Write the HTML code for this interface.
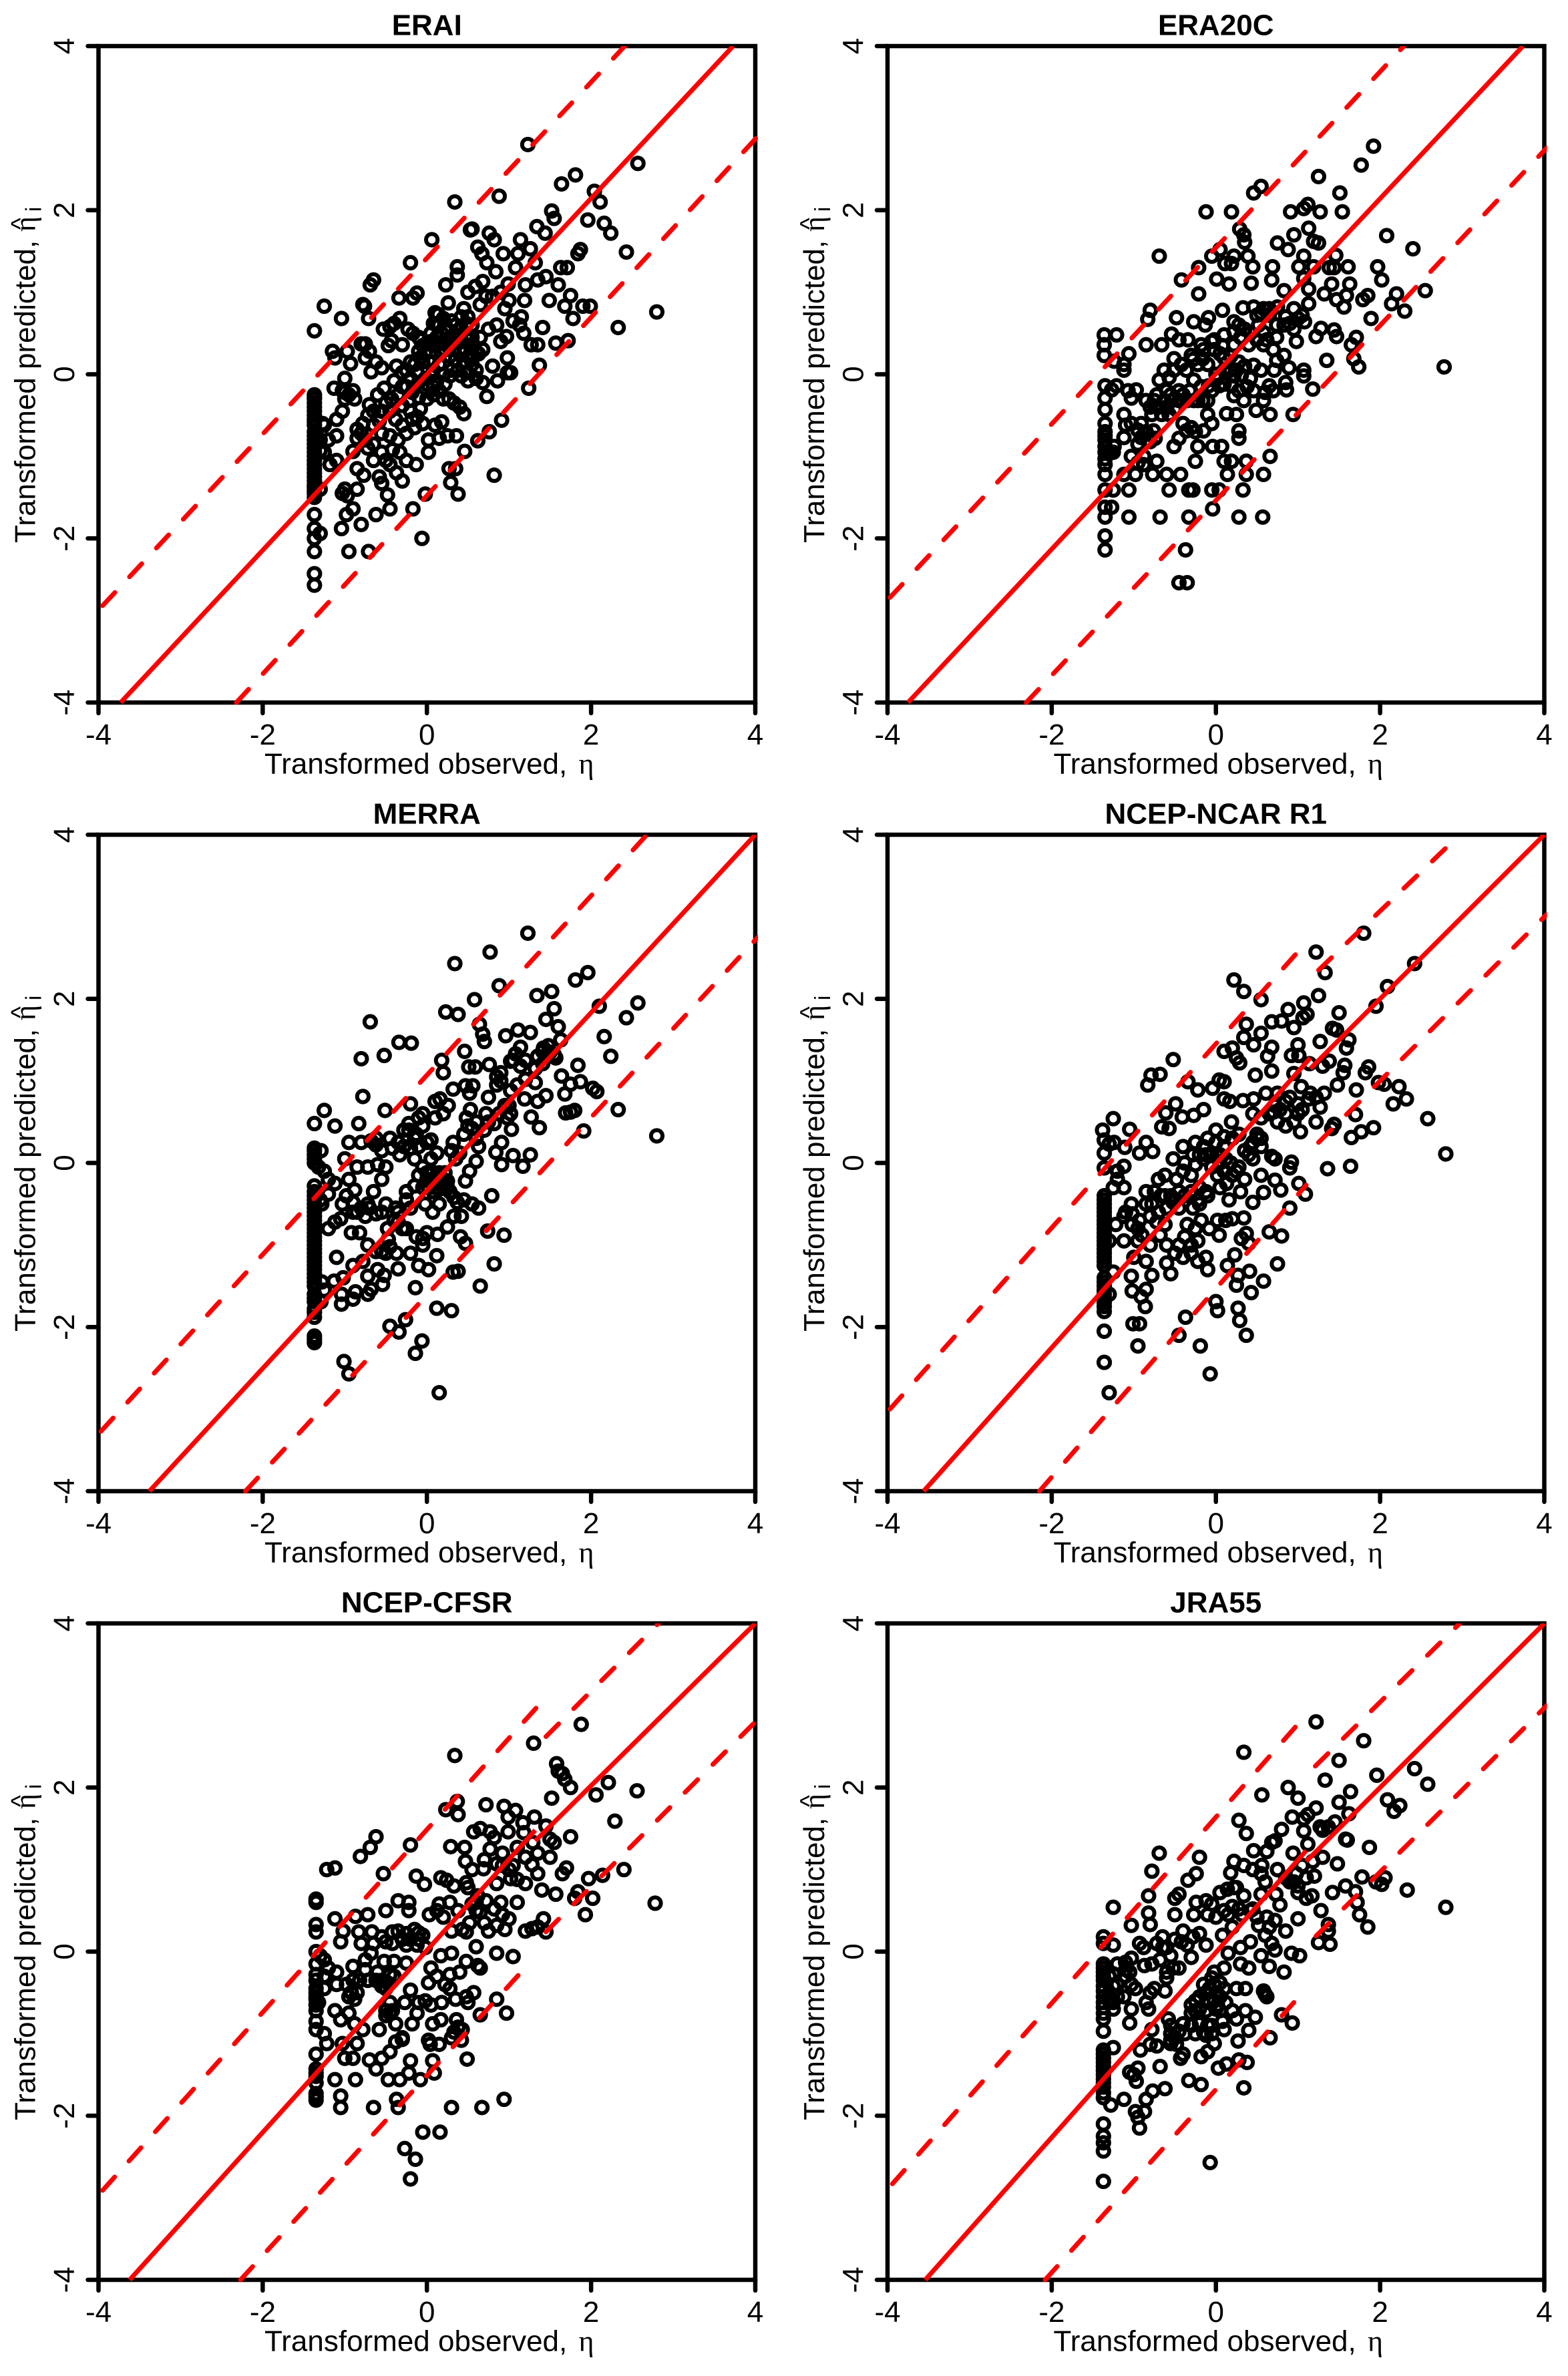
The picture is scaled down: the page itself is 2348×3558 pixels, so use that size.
<!DOCTYPE html>
<html lang="en">
<head>
<meta charset="utf-8">
<title>Transformed observed vs predicted</title>
<style>
html,body{margin:0;padding:0;background:#fff;}
svg{display:block;}
text{font-family:"Liberation Sans",Arial,sans-serif;fill:#000;}
</style>
</head>
<body>
<svg id="chart" xmlns="http://www.w3.org/2000/svg" width="2348" height="3558" viewBox="0 0 2348 3558"></svg>
<script>
const axisTicks = [-4, -2, 0, 2, 4];
const panelTitles = ["ERAI", "ERA20C", "MERRA", "NCEP-NCAR R1", "NCEP-CFSR", "JRA55"];

const eraiFit = [[-3.73,-4,3.73,4]];
const eraiUpper = [[-3.95,-2.82,2.41,4]];
const eraiLower = [[-2.32,-4,4.03,2.9]];
const era20cFit = [[-3.75,-4,3.74,4]];
const era20cUpper = [[-3.97,-2.72,2.29,4]];
const era20cLower = [[-2.31,-4,4.03,2.76]];
const merraFit = [[-3.38,-4,4,4]];
const merraUpper = [[-3.97,-3.27,2.68,4]];
const merraLower = [[-2.21,-4,4.03,2.75]];
const ncarFit = [[-3.56,-4,1.15,1.28],[1.15,1.15,4,4]];
const ncarUpper = [[-3.97,-3,1.13,2.72],[1.25,2.35,2.97,4]];
const ncarLower = [[-2.15,-4,1.1,-0.27],[1.25,0.25,4.03,3.03]];
const cfsrFit = [[-3.62,-4,1.32,1.48],[1.32,1.35,4,4]];
const cfsrUpper = [[-3.95,-2.91,1.35,2.99],[1.45,2.62,2.82,4]];
const cfsrLower = [[-2.27,-4,1.23,-0.16],[1.45,0.24,4,2.8]];
const jraFit = [[-3.54,-4,1.1,1.23],[1.1,1.1,4,4]];
const jraUpper = [[-3.94,-2.83,1.12,2.91],[1.21,2.26,2.96,3.99]];
const jraLower = [[-2.08,-4,1.12,-0.43],[1.22,0.19,4.03,3]];

const eraiPoints = [
[1.23,2.8],[2.57,2.57],[1.81,2.43],[1.64,2.32],[2.04,2.23],[2.11,2.1],[0.34,2.1],[0.88,2.17],[1.52,1.99],[1.55,1.9],
[1.96,1.88],[2.16,1.84],[1.34,1.8],[2.24,1.72],[1.44,1.72],[0.55,1.77],[0.53,1.76],[0.76,1.72],[0.82,1.64],[1.14,1.64],[0.06,1.64],
[1.26,1.53],[2.43,1.49],[1.87,1.52],[1.84,1.47],[0.62,1.55],[0.93,1.47],[0.67,1.47],[1.11,1.47],[-0.2,1.36],[0.37,1.31],
[0.73,1.36],[1.32,1.36],[1.63,1.3],[1.71,1.3],[1.08,1.3],[0.37,1.21],[0.84,1.25],[-0.65,1.15],[-0.69,1.09],[0.23,1.09],
[0.68,1.13],[0.59,1.07],[1.45,1.19],[1.35,1.15],[1.6,1.09],[1.2,1.09],[0.99,1.1],[0.5,1],[-0.12,0.99],[-0.17,0.93],
[-0.34,0.93],[1.75,0.96],[1.49,0.9],[1.19,0.9],[0.65,0.85],[0.26,0.87],[-0.78,0.85],[-0.76,0.83],[-1.25,0.83],[1.9,0.83],[1.99,0.83],
[1.68,0.83],[2.8,0.76],[-1.04,0.68],[-0.71,0.68],[1.78,0.68],[2.33,0.57],[-1.37,0.53],[1.41,0.57],[1.72,0.41],[1.57,0.38],
[1.35,0.36],[1.27,0.36],[1.37,0.11],[1.24,-0.17],[0.91,-0.56],[0.76,-0.7],[0.62,-0.81],[0.46,-0.94],[0.82,-1.23],[0.35,-1.15],
[0.27,-1.15],[0.29,-1.32],[0.38,-1.46],[-0.02,-1.46],[-0.17,-1.64],[-0.45,-1.64],[-0.06,-2],[-0.71,-2.16],[-0.95,-2.16],[-0.8,-1.83],
[-1.04,-1.88],[-0.62,-1.71],[-0.98,-1.71],[-0.9,-1.64],[-1.37,-2.57],[-1.37,-2.43],[-1.37,-2.16],[-1.37,-2],[-1.3,-1.94],[-1.37,-1.88],[-1.37,-1.71],
[-1.15,0.28],[-1.12,0.2],[-0.97,0.28],[-0.93,0.13],[-0.8,0.37],[-0.75,0.37],[-0.75,0.2],[-0.7,0.28],[-0.62,0.15],[-0.68,0.03],
[-0.55,0.08],[-0.53,0.55],[-0.45,0.58],[-0.4,0.62],[-0.33,0.68],[-0.47,0.35],[-0.43,0.41],[-0.3,0.36],[-0.23,0.55],[-0.17,0.5],
[-0.1,0.45],[-0.37,0.1],[-0.25,0.05],[-0.15,0.12],[-0.08,0.2],[-0.02,0.25],[0.03,0.15],[0.05,0.5],[0.1,0.75],[0.14,0.73],
[0.12,0.6],[0.18,0.5],[0.22,0.42],[0.1,0.35],[0.17,0.28],[0.25,0.35],[0.3,0.65],[0.33,0.48],[0.4,0.45],[0.45,0.8],
[0.5,0.7],[0.55,0.6],[0.47,0.3],[0.52,0.2],[0.57,0.35],[0.63,0.25],[0.68,0.3],[0.45,0.15],[0.35,0.18],[0.3,0.05],
[0.2,0],[0.12,-0.08],[0.05,-0.02],[0,-0.12],[-0.1,-0.1],[-0.2,-0.05],[-0.3,-0.15],[-0.4,-0.08],[-0.52,-0.17],[-0.6,-0.25],
[-0.7,-0.37],[-0.5,-0.35],[-0.43,-0.3],[-0.3,-0.38],[-0.2,-0.45],[-0.08,-0.42],[0,-0.3],[0.08,-0.25],[0.2,-0.3],[0.27,-0.3],
[0.33,-0.35],[0.4,-0.4],[0.45,-0.48],[0.5,-0.08],[0.6,-0.05],[0.68,-0.1],[0.73,-0.27],[0.8,0.1],[0.86,-0.08],[0.98,0.02],
[1.02,0.02],[0.98,0.2],[0.9,0.4],[0.97,0.46],[0.85,0.6],[0.95,0.8],[1.05,0.65],[1.13,0.6],[1.18,0.5],[1.15,0.7],
[0.9,1],[1,0.9],[0.72,0.95],[0.8,0.95],[-0.18,-0.55],[-0.05,-0.6],[0.1,-0.62],[0.18,-0.58],[0.25,-0.75],[0.36,-0.75],
[0.02,-0.8],[0.02,-0.95],[0.15,-0.78],[-0.35,-0.8],[-0.45,-0.75],[-0.25,-0.72],[-0.58,-0.57],[-0.65,-0.62],[-0.78,-0.6],[-0.85,-0.67],
[-0.9,-0.94],[-0.72,-0.9],[-0.55,-0.95],[-0.65,-1.05],[-0.5,-1.05],[-0.45,-1.1],[-0.37,-1.2],[-0.3,-1.3],[-0.25,-1.05],[-0.13,-1.1],
[-0.58,-1.25],[-0.55,-1.33],[-0.85,-1.15],[-0.77,-1.23],[-0.85,-1.4],[-1,-1.4],[-1.03,-1.45],[-0.97,-1.48],[-0.48,-1.47],[-1.1,-1.05],
[-1.18,-1.1],[-1.25,-0.95],[-1.2,-0.8],[-1.1,-0.75],[-1.27,-0.6],[-1.1,-0.55],[-1.03,-0.45],[-1.13,-0.17],[-1.03,-0.2],[-1,-0.05],
[-0.9,-0.2],[-0.88,-0.3],[-1,-0.3],[-1.3,-1.4],[-1.37,-0.25],[-1.37,-0.3],[-1.37,-0.35],[-1.37,-0.55],[-1.37,-0.62],[-1.37,-0.8],
[-1.37,-0.95],[-1.37,-1.1],[-1.37,-1.2],[-1.37,-1.25],[-1.37,-1.3],[-1.37,-1.38],[-1.37,-1.45],[-1.37,-1.5],[-1.3,-0.93],[-0.55,-0.72],
[0.55,0.45],[0.4,0.3],[0.28,0.22],[0.15,0.12],[0.08,0.05],[0.65,0.45],[0.75,0.55],[-0.05,0.35],[0.6,0.05],[0.42,-0.02],
[0.05,0.4],[0.12,0.45],[0.18,0.38],[0.22,0.3],[0.28,0.42],[0.32,0.3],[0.38,0.38],[0.42,0.55],[0.48,0.48],[0.52,0.42],
[0.48,0.62],[0.42,0.7],[0.35,0.6],[0.25,0.55],[0.2,0.68],[0.15,0.6],[0.08,0.62],[0.05,0.28],[0,0.38],[-0.05,0.15],
[-0.1,0.28],[-0.12,0.02],[-0.02,-0.05],[0.08,-0.15],[0.15,-0.2],[0.22,-0.12],[0.28,-0.02],[0.38,0.05],[0.48,0.02],[0.55,0.12],
[0.6,0.28],[0.55,0.25],[-0.25,-0.15],[-0.18,-0.22],[-0.1,-0.28],[-0.35,-0.25],[-0.45,-0.45],[-0.38,-0.55],[-0.3,-0.62],[-0.22,-0.32],
[-0.12,-0.52],[-0.55,-0.45],[-0.65,-0.45],[-0.72,-0.5],[-0.8,-0.72],[-0.75,-0.8],[-0.85,-0.78],[-0.65,-0.85],[-0.15,-0.65],[-0.42,-0.92],
[-0.33,-0.95],[-0.2,0.15],[-0.3,0.02],[-0.08,0.42],[-1.37,-0.28],[-1.37,-0.4],[-1.37,-0.45],[-1.37,-0.5],[-1.37,-0.58],[-1.37,-0.7],
[-1.37,-0.75],[-1.37,-0.85],[-1.37,-0.9],[-1.37,-1],[-1.37,-1.05],[-1.37,-1.15],[-1.37,-1.35],[-1.37,-1.42],[-1.3,-0.8],[-1.25,-0.62],
[-1,-0.22],[-0.95,-0.25]
];

const era20cPoints = [
[1.92,2.78],[1.77,2.55],[1.25,2.41],[0.55,2.29],[0.46,2.21],[1.51,2.21],[-0.12,1.98],[0.19,1.98],[0.91,1.98],[1.27,1.98],
[1.54,1.98],[1.12,2.07],[1.07,2.02],[1.13,1.78],[0.29,1.77],[0.34,1.7],[0.35,1.61],[0.95,1.7],[2.08,1.69],[0.75,1.6],
[1.19,1.62],[1.25,1.6],[2.4,1.53],[-0.69,1.44],[-0.05,1.44],[0.05,1.52],[0.22,1.44],[0.39,1.44],[0.88,1.52],[1.07,1.44],
[1.46,1.45],[-0.21,1.3],[0.11,1.35],[0.19,1.35],[0.45,1.31],[0.69,1.31],[1.01,1.31],[1.19,1.31],[1.38,1.3],[1.44,1.3],
[1.61,1.31],[1.97,1.31],[-0.42,1.15],[0.01,1.16],[0.16,1.1],[0.68,1.15],[1.07,1.17],[2.02,1.15],[1.41,1.1],[1.63,1.1],
[0.43,1.11],[-0.21,0.98],[1.13,1.04],[1.32,0.98],[2.55,1.02],[2.2,0.98],[1.85,0.96],[1.79,0.91],[1.59,0.96],[1.47,0.91],
[0.83,1.02],[1.13,0.86],[2.14,0.86],[2.3,0.77],[1.56,0.82],[-0.8,0.78],[-0.83,0.67],[-0.48,0.69],[0.08,0.78],[0.33,0.81],
[0.46,0.82],[0.58,0.8],[0.95,0.8],[-0.09,0.69],[-0.27,0.64],[-0.13,0.6],[1.89,0.68],[0.22,0.64],[1.08,0.64],[1.44,0.54],
[1.28,0.56],[1.47,0.46],[1.22,0.46],[-1.36,0.48],[-1.21,0.48],[-1.36,0.36],[-1.36,0.23],[-1.24,0.16],[-1.06,0.25],[-1.12,0.12],
[-1.12,0.05],[-0.85,0.36],[-0.66,0.36],[-0.54,0.49],[-0.45,0.42],[-0.34,0.42],[1.71,0.45],[1.65,0.36],[1.35,0.17],[1.68,0.19],
[1.74,0.09],[2.78,0.09],[0.98,0.4],[1.07,0.05],[1.07,-0.02],[1.18,-0.18],[0.94,-0.49],[0.86,-0.19],[0.66,-0.49],[0.66,-1],
[0.58,-1.22],[0.37,-1.06],[0.37,-1.22],[0.33,-1.41],[0.14,-1.22],[0.19,-1.06],[0.1,-1.06],[0.07,-0.88],[0.28,-0.69],[0.28,-0.78],
[-0.04,-1.64],[0.28,-1.74],[0.57,-1.74],[-0.05,-1.41],[0.04,-1.41],[-0.33,-1.41],[-0.28,-1.41],[-0.43,-1.22],[-0.57,-1.41],[-0.33,-1.74],
[-0.68,-1.74],[-1.06,-1.74],[-1.06,-1.41],[-0.37,-2.14],[-0.45,-2.54],[-0.35,-2.54],[-1.35,-2.14],[-1.35,-1.97],[-1.35,-1.74],[-1.27,-1.62],
[-1.35,-1.62],[-1.35,-1.41],[-1.25,-1.41],[-1.35,-1.22],[-1.12,-1.22],[-0.98,-1.22],[-0.77,-1.22],[-0.6,-1.22],[-0.72,-1.06],[-0.88,-1],
[-1.03,-1],[-0.25,-1.06],[-0.22,-0.88],[-0.51,-0.88],[-0.45,-0.78],[-0.04,-0.88],[-0.15,-0.69],[-0.36,-0.69],[-0.05,-0.6],[-0.1,-0.49],
[-0.4,-0.6],[-1.12,-0.49],[-1.12,-0.77],[-1.03,-0.6],[-0.91,-0.6],[-0.91,-0.77],[-0.76,-0.69],[-0.74,-0.78],[-1.24,-0.88],[-1.35,-0.88],
[-1.35,-1.03],[-1.35,-0.75],[-1.35,-0.6],[-1.35,-0.43],[-1.35,-0.29],[-1.35,-0.14],[-1.21,-0.14],[-1.27,-0.19],[-1.07,-0.2],[-0.97,-0.19],
[-1.03,-0.29],[-0.75,-0.32],[-0.63,-0.32],[-0.54,-0.32],[-0.42,-0.32],[-0.27,-0.32],[-0.16,-0.32],[-0.78,-0.49],[-0.66,-0.49],[-0.57,-0.49],
[-0.69,-0.07],[-0.57,-0.04],[-0.63,0.05],[-0.51,0.05],[-0.36,0.05],[-0.51,0.19],[-0.3,0.23],[-0.15,0.3],[-0.16,0.19],[-0.02,0.3],
[0.1,0.2],[0.25,0.05],[0.31,-0.01],[0.19,-0.14],[0.04,-0.14],[-0.09,-0.14],[-0.27,-0.07],[0.22,-0.26],[0.34,-0.32],[0.13,-0.48],
[0.25,-0.49],[0.49,-0.44],[0.58,-0.32],[0.46,-0.2],[0.65,-0.14],[0.55,0.05],[0.46,0.11],[0.74,0.17],[0.83,0.23],[0.71,0.05],
[0.89,0.08],[0.58,0.36],[0.4,0.36],[0.74,0.45],[0.83,0.6],[0.74,0.6],[0.58,0.51],[0.22,0.36],[0.1,0.48],[-0.02,0.42],[-0.18,0.36],
[-0.85,-0.32],[-0.6,-0.2],[-0.45,-0.2],[-0.32,-0.2],[-0.18,-0.15],[0.1,0.05],[0,0],[0.22,0.52],[0.42,0.5],[0.52,0.6],[0.65,0.72],[0.95,0.55],
[-0.7,-0.4],[-0.6,-0.4],[-0.5,-0.42],[-0.45,-0.32],[-0.35,-0.32],[-0.22,-0.32],[-0.8,-0.4],[-0.72,-0.25],[-0.55,-0.25],[-0.4,-0.25],
[-0.1,-0.32],[-0.05,-0.2],[0.02,-0.05],[0.12,0.02],[0.18,0.05],[0.22,-0.02],[0.1,-0.12],[0.28,-0.2],[0.38,-0.15],[0.42,-0.05],
[0.35,0.1],[0.28,0.15],[0.18,0.22],[0.05,0.25],[-0.1,0.12],[-0.22,0.12],[-0.28,0.18],[-0.42,0.12],[-0.05,0.4],[0.08,0.35],
[0.3,0.45],[0.35,0.55],[0.28,0.6],[0.5,0.42],[0.62,0.42],[0.7,0.3],[0.5,0.72],[0.55,0.75],[0.65,0.8],[0.75,0.82],
[0.85,0.7],[0.9,0.62],[1,0.68],[1.05,0.72],[-0.95,-0.68],[-0.85,-0.7],[-0.8,-0.82],[-0.95,-0.85],[-1.1,-0.62],[-1.35,-0.7],
[-1.35,-0.8],[-1.35,-0.95],[-1.35,-1.1],[-1.3,-0.95],[-1.25,-0.95],[-0.95,-1.08],[-0.88,-1.1],[-0.3,-0.65],[-0.25,-0.7],[0.6,-0.22],
[0.7,-0.2],[0.85,-0.1]
];

const merraPoints = [
[1.23,2.8],[0.77,2.57],[0.34,2.43],[1.96,2.32],[1.81,2.23],[0.88,2.16],[1.34,2.04],[1.52,2.09],[2.57,1.95],[0.58,1.99],
[1.55,1.88],[2.1,1.91],[2.43,1.77],[0.23,1.84],[0.38,1.81],[-0.69,1.72],[1.45,1.75],[0.64,1.69],[1.6,1.66],[1.11,1.62],
[1.26,1.59],[0.68,1.57],[0.7,1.48],[0.96,1.55],[1.63,1.5],[2.16,1.54],[-0.34,1.47],[-0.19,1.46],[-0.52,1.31],[-0.8,1.27],
[0.46,1.36],[1.14,1.41],[2.24,1.3],[0.18,1.25],[0.76,1.2],[0.51,1.17],[0.59,1.17],[1.84,1.19],[0.2,1.1],[1.64,1.06],
[1.87,0.99],[1.08,1.33],[1.48,1.43],[1.41,1.36],[1.57,1.28],[1.32,1.15],[1.41,1.21],[1.32,0.98],[1.2,1.02],[1.02,1.24],
[1.14,1.18],[2.02,0.91],[2.07,0.87],[1.68,0.84],[1.75,0.96],[1.45,0.82],[1.35,0.75],[1.19,0.78],[1.02,0.88],[-0.78,0.81],
[0.32,0.9],[0.47,0.94],[0.56,0.94],[0.52,0.85],[0.1,0.75],[0.16,0.78],[0.26,0.7],[-0.2,0.72],[-1.25,0.64],[-0.51,0.64],
[0.53,0.65],[2.33,0.65],[1.69,0.61],[1.75,0.62],[1.8,0.64],[1.27,0.56],[-1.37,0.48],[-1.12,0.45],[-0.83,0.48],[1.37,0.43],
[1.03,0.41],[1.91,0.39],[2.8,0.33],[0.91,0.25],[0.84,0.13],[1.05,0.09],[1.26,0.1],[1.17,-0.04],[0.91,-0.02],[0.79,-0.4],
[0.74,-0.83],[0.94,-0.88],[0.82,-1.23],[0.47,-0.98],[0.41,-0.9],[0.65,-1.5],[0.38,-1.32],[0.32,-1.33],[-0.14,-1.52],[0.12,-1.77],
[0.3,-1.8],[-0.26,-1.91],[-0.45,-1.99],[-0.34,-2.06],[-0.06,-2.17],[-0.14,-2.32],[-1.01,-2.42],[-0.95,-2.57],[0.15,-2.8],[-1.37,-2.19],
[-1.37,-2.11],[-1.37,-1.88],[-1.37,-1.78],[-1.37,-1.69],[-1.29,-1.69],[-1.04,-1.6],[-1.04,-1.72],[-0.9,-1.66],[-0.72,-1.6],[-0.54,-1.48],
[-0.68,-1.54],[-0.87,-1.57],[-0.35,-1.29],[-0.52,-1.37],[-0.72,-1.38],[-1.02,-1.4],[-1.13,-1.44],[-1.37,-1.5],[-1.37,-1.4],[-1.37,-1.3],
[-1.37,-1.15],[-1.37,-1.05],[-1.37,-0.95],[-1.37,-0.8],[-1.37,-0.7],[-1.37,-0.55],[-1.37,-0.45],[-1.37,-0.35],[-1.37,-0.28],[-1.37,0],
[-1.37,0.1],[-1.37,0.18],[-1.29,0.15],[-1.25,-0.1],[-1.2,-0.2],[-1.12,-0.25],[-1.2,-0.38],[-1.28,-0.5],[-1.2,-0.8],[-1.12,-0.72],
[-1.05,-0.68],[-1.03,-0.5],[-0.98,-0.4],[-0.95,-0.2],[-0.88,-0.33],[-0.9,-0.48],[-0.85,-0.6],[-0.92,-0.85],[-0.8,-0.55],[-0.72,-0.5],
[-0.65,-0.35],[-0.55,-0.2],[-0.5,-0.05],[-0.6,-0.02],[-0.72,-0.05],[-0.85,-0.05],[-1,0.05],[-0.95,0.25],[-0.8,0.25],[-0.68,0.27],
[-0.62,0.3],[-0.45,0.3],[-0.35,0.25],[-0.28,0.4],[-0.22,0.48],[-0.1,0.55],[-0.05,0.45],[-0.13,0.35],[-0.2,0.18],[-0.33,0.1],
[-0.15,0.05],[0,0.25],[0.05,0.28],[0.1,0.55],[0.2,0.6],[0.3,0.15],[0.35,0.05],[0.4,0.12],[0.45,0.35],[0.55,0.42],
[0.6,0.5],[0.7,0.4],[0.75,0.5],[0.63,0.2],[0.6,0.02],[0.52,-0.1],[0.47,-0.22],[0.55,-0.5],[0.63,-0.55],[0.42,-0.65],
[0.33,-0.65],[0.25,-0.78],[0.37,-0.48],[0.25,-0.3],[0.2,-0.2],[0.12,-0.15],[0.05,-0.1],[0,-0.2],[-0.05,-0.3],[0.15,-0.32],
[0.22,-0.12],[0.1,-0.3],[-0.02,-0.5],[0.07,-0.6],[0.15,-0.5],[-0.2,-0.55],[-0.25,-0.45],[-0.35,-0.6],[-0.4,-0.7],[-0.48,-0.8],
[-0.25,-0.8],[-0.13,-0.9],[0,-0.85],[0.13,-0.87],[-0.05,-1],[-0.2,-1.1],[-0.37,-1.1],[-0.5,-1.1],[-0.62,-1.08],[-0.72,-1],
[-0.82,-0.85],[-0.78,-1.2],[-0.9,-1.25],[-1.1,-1.15],[-0.1,-1.25],[0.02,-1.3],[0.12,-1.13],[-0.47,-0.93],[0.9,1],[0.85,1.05],
[0.95,0.7],[1.02,0.6],[0.98,0.55],[0.88,0.6],[0.75,0.8],[1.1,0.95],
[0.02,-0.22],[0.08,-0.25],[0.12,-0.22],[0.18,-0.25],[0.2,-0.3],[0.25,-0.22],[0.02,-0.3],[0.08,-0.35],[0.15,-0.12],[0,-0.12],
[-0.1,-0.15],[-0.05,-0.05],[0.28,-0.35],[0.33,-0.42],[-1.37,-0.4],[-1.37,-0.5],[-1.37,-0.6],[-1.37,-0.65],[-1.37,-0.75],[-1.37,-0.85],
[-1.37,-0.9],[-1.37,-1],[-1.37,-1.1],[-1.37,-1.2],[-1.37,-1.25],[-1.37,-1.35],[-1.37,-1.45],[-1.37,-1.6],[-1.37,-1.65],[-1.37,-1.82],
[-1.37,-2.15],[-1.37,0.05],[-1.37,0.15],[-1.32,-0.05],[-1.3,-0.45],[-1.28,-1.45],[-1.25,-1.55],[-0.5,-0.5],[-0.55,-0.6],[-0.62,-0.62],
[-0.35,-0.72],[-0.3,-0.8],[-0.38,-0.55],[-0.25,-0.35],[-0.15,-0.28],[-0.62,0.22],[-0.55,0.15],[-0.42,0.18],[-0.28,0.2],[-0.15,0.3],
[-0.1,0.2],[-0.22,0.4],[-0.05,0.6],[0.05,0.05],[0.12,0.12],[0.32,0.25],[0.48,0.55],[0.5,0.45],[0.6,0.3],[0.72,0.6],
[0.82,0.48],[1,0.7],[0.85,0.95],[0.9,1.1],[1.35,1.3],[1.42,1.4],[1.5,1.35],[1.55,1.32],[1.05,1.25],[1.2,1.25],
[-0.75,-0.65],[-0.7,-0.55],[-0.9,-0.6],[-0.45,-1.02],[-0.55,-1.08],[-0.05,-0.92],[-0.6,-1.3],[0.45,-0.45]
];

const ncarPoints = [
[1.8,2.8],[1.22,2.57],[2.42,2.43],[1.33,2.32],[0.22,2.23],[2.09,2.15],[0.34,2.09],[1.25,2.04],[0.55,1.99],[1.07,1.95],
[1.95,1.91],[0.88,1.87],[1.5,1.83],[1.11,1.81],[1.06,1.77],[0.37,1.69],[0.68,1.72],[0.8,1.73],[0.95,1.65],[1.42,1.64],
[1.47,1.62],[0.55,1.58],[0.34,1.53],[1.62,1.5],[1.27,1.48],[0.46,1.44],[0.68,1.41],[1,1.44],[1.59,1.4],[0.1,1.36],
[0.2,1.4],[0.63,1.3],[0.92,1.31],[0.25,1.28],[0.29,1.22],[1.01,1.31],[-0.52,1.26],[1.38,1.24],[1.57,1.19],[1.14,1.21],
[1.86,1.17],[1.3,1.18],[1.82,1.1],[1.55,1.1],[0.68,1.12],[-0.68,1.08],[-0.79,1.07],[0.48,1.07],[0.95,1.09],[-0.34,0.99],
[0.04,1.01],[0.1,0.99],[-0.83,0.95],[1.98,0.98],[2.05,0.96],[1.48,0.95],[2.23,0.93],[-0.22,0.89],[-0.04,0.91],[1.71,0.89],
[2.32,0.78],[2.16,0.72],[0.1,0.78],[0.17,0.75],[0.46,0.78],[0.33,0.76],[0.61,0.85],[1.04,0.93],[1.32,0.85],[-0.49,0.72],
[-0.15,0.65],[-0.61,0.61],[1.7,0.59],[-0.27,0.58],[-0.41,0.56],[2.58,0.54],[-1.25,0.54],[0.19,0.5],[1.27,0.68],[1.13,0.78],
[1.22,0.5],[1.44,0.47],[1.41,0.42],[1.92,0.43],[1.77,0.38],[1.65,0.31],[1.03,0.38],[-1.05,0.41],[-1.38,0.4],[-1.36,0.28],
[-1.3,0.23],[-1.24,0.25],[-0.85,0.25],[-0.66,0.44],[-0.57,0.42],[-1.11,0.19],[-0.93,0.12],[-0.77,0.14],[2.8,0.11],[-1.36,0.12],
[-1.12,-0.04],[-1.36,-0.06],[0.92,0.01],[0.9,-0.06],[1.64,-0.04],[1.36,-0.07],[1.01,-0.25],[1.09,-0.38],[0.9,-0.55],[0.79,-0.33],
[0.72,-0.21],[0.58,-0.36],[0.45,-0.48],[0.65,-0.84],[0.8,-0.89],[0.75,-1.23],[0.34,-0.67],[0.37,-0.86],[0.31,-0.92],[0.4,-0.98],
[0.23,-1.12],[0.14,-1.25],[0.41,-1.32],[0.27,-1.37],[0.58,-1.44],[0.25,-1.49],[0.43,-1.58],[0,-1.69],[0.02,-1.8],[0.27,-1.77],
[0.29,-1.92],[0.37,-2.1],[-0.37,-1.88],[-0.45,-2.1],[-0.19,-2.23],[-0.07,-2.57],[-0.95,-2.23],[-1.01,-1.96],[-0.93,-1.96],[-0.86,-1.75],
[-0.91,-1.63],[-0.85,-1.54],[-1.03,-1.38],[-1.02,-1.56],[-1.36,-1.81],[-1.36,-2.05],[-1.36,-2.43],[-1.3,-2.8],[-1.36,-1.65],[-1.36,-1.55],
[-1.36,-1.45],[-1.3,-1.6],[-1.25,-1.33],[-1.36,-1.25],[-1.36,-1.15],[-1.36,-1.05],[-1.36,-0.95],[-1.36,-0.85],[-1.36,-0.7],[-1.36,-0.6],
[-1.36,-0.5],[-1.36,-0.4],[-1.3,-0.95],[-1.22,-0.75],[-1.12,-0.95],[-1.1,-0.6],[-1.03,-0.5],[-1.02,-0.75],[-0.93,-0.7],[-0.95,-0.95],
[-1,-1.15],[-0.85,-1.2],[-0.8,-1],[-0.78,-1.37],[-0.55,-1.35],[-0.6,-1],[-0.5,-1.1],[-0.38,-0.9],[-0.3,-1.1],[-0.22,-1.2],
[-0.12,-1.15],[-0.1,-1.3],[-0.25,-0.8],[-0.35,-0.75],[-0.18,-0.7],[-0.08,-0.8],[0.02,-0.7],[0.12,-0.7],[0.2,-0.68],[0.04,-0.88],
[-0.45,-0.55],[-0.55,-0.4],[-0.67,-0.4],[-0.78,-0.5],[-0.7,-0.6],[-0.62,-0.75],[-0.85,-0.35],[-0.7,-0.2],[-0.62,-0.15],[-0.48,-0.2],
[-0.4,-0.1],[-0.3,-0.15],[-0.2,-0.3],[-0.1,-0.4],[0.05,-0.3],[0.13,-0.25],[0.16,-0.45],[0.3,-0.35],[0.35,-0.2],[0.25,-0.1],
[0.18,0],[0.05,0],[-0.05,0.1],[-0.15,0.05],[-0.28,0.1],[-0.4,0.2],[-0.38,0],[-0.52,0.05],[-0.1,0.3],[0,0.25],
[0.1,0.2],[0.2,0.3],[0.28,0.35],[0.42,0.2],[0.5,0.3],[0.55,0.3],[0.45,0.05],[0.55,-0.15],[0.68,0.08],[0.72,0.05],
[0.45,0.6],[0.55,0.55],[0.65,0.6],[0.75,0.5],[0.85,0.45],[0.95,0.5],[1,0.6],[0.85,0.75],[0.72,0.7],[-1.2,-0.2],
[-1.25,-0.3],[-1.12,-0.3],[-1.2,-0.1],
[-1.36,-0.45],[-1.36,-0.55],[-1.36,-0.65],[-1.36,-0.75],[-1.36,-0.8],[-1.36,-0.9],[-1.36,-1],[-1.36,-1.1],[-1.36,-1.2],[-1.36,-1.4],
[-1.36,-1.5],[-1.36,-1.6],[-1.36,-1.7],[-1.36,-1.75],[-0.25,-0.02],[-0.2,0.1],[-0.12,0.1],[-0.05,-0.05],[0.05,0.1],[0.12,0.05],
[-0.3,-0.35],[-0.22,-0.45],[-0.12,-0.35],[-0.2,-0.5],[-0.28,-0.55],[-0.38,-0.4],[-0.45,-0.35],[-0.52,-0.48],[-0.6,-0.55],[-0.72,-0.72],
[-0.68,-0.88],[-0.85,-0.5],[-0.8,-0.65],[-0.75,-0.35],[-0.62,-0.4],[0.02,-0.15],[0.1,-0.1],[0.2,-0.15],[0.28,-0.05],[0.4,0.1],
[0.35,0.15],[0.45,0.25],[0.5,0.35],[0.55,0.2],[-0.25,0.25],[-0.15,0.2],[0,0.4],[0.1,0.32],[0.7,0.62],[0.78,0.65],
[0.85,0.6],[0.9,0.8],[1,0.72],[1.05,0.65],[1.15,0.85],[1.22,0.8],[0.75,0.85],[-1.12,-0.65],[-1.02,-0.62],[-0.95,-0.8],
[-0.9,-0.88],[-0.6,-1.22],[-0.45,-1],[-0.4,-1.15],[-0.22,-0.95],[-0.3,-1]
];

const cfsrPoints = [
[1.88,2.77],[1.3,2.54],[0.34,2.39],[1.58,2.29],[1.6,2.2],[1.65,2.17],[1.68,2.1],[1.75,2],[2.21,2.06],[2.56,1.96],
[2.06,1.91],[1.52,1.87],[0.37,1.83],[0.23,1.73],[0.72,1.79],[0.94,1.77],[1.08,1.72],[0.38,1.67],[0.99,1.64],[1.31,1.64],
[2.29,1.59],[1.17,1.57],[1.45,1.53],[0.65,1.5],[0.57,1.46],[0.77,1.46],[0.99,1.46],[1.18,1.45],[1.75,1.4],[0.82,1.39],
[1.5,1.37],[1.55,1.33],[-0.62,1.4],[-0.69,1.27],[-0.81,1.16],[-0.2,1.3],[0.29,1.28],[0.46,1.27],[0.77,1.25],[1.1,1.27],
[1.29,1.33],[1.35,1.2],[1.2,1.15],[1.5,1.15],[0.47,1.1],[0.92,1.2],[0.7,1.12],[1.7,1.02],[1.65,0.95],[2.4,1],
[-1.22,1],[-1.12,1.02],[-0.53,0.95],[0.55,1],[0.69,1.01],[0.85,1.07],[1.05,1.05],[1.28,1.06],[1.35,0.95],[1.97,0.89],
[2.14,0.93],[-0.13,0.92],[0.17,0.9],[0.24,0.87],[-0.03,0.82],[0.33,0.8],[0.48,0.84],[0.5,0.78],[0.85,0.83],[1.02,0.89],
[1.2,0.83],[1.4,0.75],[1.57,0.7],[1.84,0.73],[1.8,0.65],[2.02,0.65],[2.78,0.59],[-1.35,0.64],[-1.35,0.6],[0.03,0.45],
[-0.35,0.62],[-0.22,0.6],[-0.22,0.5],[-0.5,0.5],[-1.12,0.4],[-0.87,0.43],[-0.72,0.45],[0.15,0.58],[0.28,0.6],[0.38,0.5],
[0.6,0.6],[0.72,0.62],[0.9,0.6],[1.1,0.6],[1,0.4],[1.42,0.4],[1.93,0.45],[-1.35,0.33],[-1.35,0.24],[-1.02,0.25],
[-0.83,0.24],[-0.67,0.24],[-1.05,0.12],[-0.8,0.1],[-0.65,0.1],[-0.42,0.24],[-0.35,0.25],[-0.25,0.22],[-0.1,0.23],[-0.05,0.2],
[-0.42,0.1],[-0.25,0.08],[-0.12,0.08],[-0.02,0.05],[0.3,0.25],[0.43,0.27],[0.48,0.24],[0.75,0.25],[0.95,0.27],[1.2,0.25],
[1.28,0.28],[1.45,0.24],[1.35,0.3],[0.6,0.06],[0.3,-0.02],[0.17,-0.05],[0.85,-0.02],[1.05,-0.06],[0.48,-0.12],[0.62,-0.17],
[0.65,-0.2],[-1.35,0],[-1.3,-0.05],[-1.25,-0.1],[-1.35,-0.28],[-1.35,-0.35],[-1.2,-0.2],[-1.1,-0.25],[-0.9,-0.18],[-0.75,-0.1],
[-0.68,-0.02],[-0.52,-0.12],[-0.4,-0.12],[-0.25,-0.14],[-0.4,-0.3],[-0.55,-0.35],[-0.5,-0.45],[-0.72,-0.35],[-0.9,-0.35],[-1.1,-0.4],
[-1.25,-0.45],[-0.95,-0.55],[-0.88,-0.58],[0.05,-0.2],[0.02,-0.38],[0.12,-0.3],[0.22,-0.4],[0.28,-0.28],[0.4,-0.25],[0.28,-0.45],
[0.48,-0.55],[0.57,-0.5],[0.5,-0.62],[0.85,-0.58],[0.97,-0.75],[0.65,-0.77],[0.35,-0.58],[0.18,-0.62],[0.05,-0.65],[-0.02,-0.6],
[-0.2,-0.47],[-0.27,-0.62],[-0.1,-0.62],[-0.12,-0.75],[-0.5,-0.72],[-0.45,-0.75],[-1.35,-0.5],[-1.35,-0.58],[-1.35,-0.65],[-1.35,-0.72],
[-1.35,-0.85],[-1.35,-0.95],[-1.25,-1],[-1.22,-1.12],[-1.35,-1.25],[-1.12,-0.72],[-1.05,-0.83],[-0.95,-0.75],[-0.88,-0.88],[-0.78,-0.95],
[-0.58,-0.95],[-0.38,-0.88],[-0.18,-0.88],[0.07,-0.88],[0.17,-0.83],[0.36,-0.83],[0.43,-0.95],[-1.03,-1.12],[-0.85,-1.12],[-0.9,-1.3],
[-1,-1.3],[-0.7,-1.32],[-0.55,-1.3],[-0.45,-1.22],[-0.38,-1.1],[-0.3,-1.07],[-0.2,-1.33],[-0.62,-1.43],[0.02,-1.08],[0.04,-1.13],
[0.15,-1.13],[0.3,-1.05],[0.42,-1.08],[0.07,-1.33],[0.49,-1.31],[-1.35,-1.43],[-1.35,-1.52],[-1.35,-1.6],[-1.35,-1.73],[-1.35,-1.77],
[-1.35,-1.81],[-1.12,-1.56],[-0.87,-1.56],[-0.47,-1.56],[-0.33,-1.56],[-0.08,-1.56],[0.09,-1.48],[-0.22,-1.48],[-1.05,-1.76],[-1.05,-1.9],
[-0.65,-1.9],[-0.37,-1.8],[-0.35,-1.9],[0.3,-1.9],[0.67,-1.9],[0.94,-1.8],[-0.05,-2.2],[0.16,-2.2],[-0.27,-2.4],[-0.14,-2.53],[-0.2,-2.77],
[-0.55,0.18],[-0.5,0.12],[-0.3,0.15],[-0.2,0.15],[-0.1,0.15],[-0.15,0.27],[-0.6,-0.25],[-0.62,-0.35],[-0.55,-0.42],[-0.48,-0.38],
[-0.45,-0.28],[-0.75,-0.22],[-0.82,-0.35],[-0.85,-0.5],[-0.92,-0.5],[-0.98,-0.4],[-0.45,-0.62],[-0.5,-0.78],[-0.42,-0.72],[0.6,0.5],
[0.55,0.58],[0.65,0.48],[0.7,0.35],[0.52,0.35],[0.62,0.68],[0.82,0.52],[0.92,0.45],[0.85,0.32],[0.2,0.42],[0.12,0.5],
[-1.35,-0.55],[-1.32,-0.62],[-1.35,-0.45],[-1.35,-0.15],[-1.25,-0.3],[-1.35,-1.48],[-0.3,-1.05],[0.38,-0.92],[0.33,-0.98],[1.1,0.88],
[1,1],[0.92,1.05]
];

const jraPoints = [
[1.22,2.8],[1.8,2.57],[0.34,2.43],[1.5,2.33],[2.42,2.23],[2.58,2.04],[1.96,2.15],[1.33,2.09],[0.88,2],[1.64,1.95],
[0.56,1.91],[1,1.87],[2.09,1.85],[1.5,1.82],[2.24,1.78],[2.17,1.71],[1.22,1.75],[1.62,1.68],[1.12,1.67],[0.93,1.64],
[1.07,1.62],[0.28,1.6],[1.27,1.52],[1.45,1.58],[1.37,1.52],[0.8,1.49],[1.3,1.48],[0.37,1.44],[1.07,1.47],[1.58,1.37],
[1.6,1.36],[0.68,1.33],[0.72,1.35],[1.12,1.31],[1.87,1.27],[0.46,1.23],[0.62,1.22],[-0.69,1.2],[-0.2,1.15],[0.94,1.2],
[1.3,1.15],[1.18,1.1],[0.22,1.1],[0.34,1.05],[0.56,1.05],[1.48,1.07],[0.45,1],[-0.78,0.98],[-0.24,0.95],[0.18,0.96],
[0.55,0.95],[0.75,1],[1.2,0.92],[1.78,0.91],[2.06,0.9],[-0.34,0.87],[0.6,0.85],[0.95,0.85],[1,0.8],[1.95,0.85],
[2.02,0.82],[1.58,0.8],[0.22,0.78],[0.14,0.76],[0.25,0.78],[1.42,0.72],[1.7,0.73],[2.33,0.75],[0.73,0.7],[-0.82,0.68],
[-0.5,0.65],[-0.45,0.7],[0.34,0.68],[0.55,0.7],[0.05,0.72],[1.1,0.65],[1.17,0.68],[-0.24,0.6],[-0.12,0.62],[-0.05,0.58],
[1.72,0.6],[0.78,0.57],[2.8,0.54],[-1.25,0.54],[1.28,0.5],[-0.82,0.47],[-0.5,0.45],[-0.27,0.45],[1.75,0.45],[1,0.4],
[0.45,0.52],[0.32,0.45],[0.15,0.45],[0,0.42],[-0.1,0.45],[-1.03,0.32],[-0.8,0.33],[1.37,0.33],[1.85,0.3],[1.37,0.25],
[-1.37,0.18],[-1.37,0.1],[-1.25,0.08],[-0.93,0.1],[-0.88,0.05],[-0.72,0.1],[-0.65,0.18],[-0.5,0.15],[-0.4,0.25],[-0.2,0.22],
[-0.12,0.08],[0.08,0.2],[0.2,0.3],[0.42,0.12],[0.6,0.2],[0.68,0.1],[0.72,0.02],[0.85,0.25],[1.25,0.11],[1.39,0.09],
[-0.6,0.05],[0.15,-0.02],[0.3,0.05],[0.55,-0.05],[0.92,-0.02],[1.02,-0.05],[-1.1,-0.13],[-1.2,-0.15],[-1.37,-0.15],[-1.37,-0.25],
[-1.37,-0.3],[-1.25,-0.27],[-1.1,-0.3],[-1.03,-0.08],[-0.87,-0.17],[-0.78,-0.15],[-0.68,-0.1],[-0.6,-0.25],[-0.3,-0.07],[-0.45,-0.2],
[0.65,-0.18],[0.83,-0.25],[0.3,-0.15],[0.4,-0.2],[0.1,-0.2],[-0.02,-0.25],[-1.03,-0.4],[-0.98,-0.45],[-1.12,-0.55],[-1.37,-0.48],
[-1.37,-0.55],[-1.3,-0.6],[-0.75,-0.45],[-0.8,-0.5],[-0.62,-0.48],[-0.02,-0.4],[0.1,-0.45],[-0.12,-0.5],[0.58,-0.48],[0.6,-0.52],
[0.62,-0.55],[0.25,-0.45],[0.36,-0.45],[-1.25,-0.7],[-1.37,-0.75],[-1.37,-0.82],[-1.37,-0.97],[-1.03,-0.7],[-1.05,-0.87],[-0.85,-0.62],
[-0.82,-0.7],[-0.78,-0.95],[-0.3,-0.65],[-0.25,-0.72],[0,-0.7],[0.05,-0.72],[0.2,-0.72],[0.36,-0.72],[0.48,-0.8],[0.8,-0.77],
[0.93,-0.87],[0.25,-0.82],[0.08,-0.85],[-0.05,-0.9],[-0.55,-0.9],[-0.4,-0.88],[-0.12,-1.02],[-0.25,-1],[0.4,-0.96],[0.66,-1.05],
[0.27,-1.09],[-1.25,-1.17],[-1.37,-1.25],[-1.37,-1.3],[-1.37,-1.4],[-1.37,-1.5],[-1.37,-1.6],[-1.37,-1.72],[-1.37,-1.78],[-0.92,-1.2],
[-0.8,-1.13],[-0.72,-1.15],[-0.68,-1.4],[-0.55,-1.08],[-0.48,-1.13],[-0.4,-1.25],[-0.43,-1.3],[-0.18,-1.28],[-0.1,-1.22],[-0.02,-1.12],
[0.28,-1.32],[0.38,-1.35],[0.03,-1.42],[0.13,-1.37],[-1,-1.5],[-1.05,-1.47],[-0.95,-1.42],[-0.97,-1.58],[-0.33,-1.57],[-0.18,-1.62],
[0.34,-1.66],[-0.62,-1.67],[-0.77,-1.7],[-0.85,-1.8],[-1.12,-1.8],[-1.28,-1.87],[-0.98,-1.95],[-0.87,-1.95],[-0.95,-2.02],[-0.93,-2.15],
[-1.37,-2.1],[-1.37,-2.25],[-1.37,-2.33],[-1.37,-2.43],[-1.37,-2.8],[-0.07,-2.57],
[-0.05,-0.32],[0,-0.5],[0.05,-0.55],[-0.08,-0.45],[-0.02,-0.6],[0.05,-0.38],[-0.15,-0.4],[-0.2,-0.55],[-0.2,-0.7],[-0.12,-0.72],
[-0.3,-0.75],[-0.25,-0.6],[-0.08,-0.62],[0.02,-0.65],[0.12,-0.62],[-0.55,-1],[-0.58,-0.82],[-0.5,-1.05],[-0.45,-0.97],[-0.38,-1],
[-0.3,-0.9],[-0.2,-0.88],[-0.15,-0.98],[-0.1,-0.9],[-0.55,-1.12],[-0.05,-1],[0.1,-0.95],[-1.37,-0.2],[-1.37,-0.35],[-1.37,-0.42],
[-1.37,-0.62],[-1.37,-0.68],[-1.3,-0.3],[-1.25,-0.42],[-1.2,-0.4],[-1.3,-0.5],[-1.25,-0.62],[-1.2,-0.55],[-1.1,-0.22],[-1.05,-0.25],
[-1.37,-1.2],[-1.37,-1.35],[-1.37,-1.45],[-1.37,-1.55],[-1.37,-1.65],[-0.65,0.05],[-0.55,-0.05],[-0.52,-0.2],[-0.6,-0.32],[-0.35,0.08],
[-0.42,0.12],[-0.28,0.18],[0.1,0.5],[0.2,0.55],[0.28,0.52],[0.42,0.5],[0.5,0.42],[0.62,0.42],[0.72,0.38],[0.52,0.32],
[0.65,0.3],[0.9,0.85],[0.98,0.95],[1.05,1.05],[1.1,0.9],[1,0.72],[0.85,0.9]
];

const panelPoints = [eraiPoints, era20cPoints, merraPoints, ncarPoints, cfsrPoints, jraPoints];
const panelFit = [eraiFit, era20cFit, merraFit, ncarFit, cfsrFit, jraFit];
const panelUpper = [eraiUpper, era20cUpper, merraUpper, ncarUpper, cfsrUpper, jraUpper];
const panelLower = [eraiLower, era20cLower, merraLower, ncarLower, cfsrLower, jraLower];

const SVGNS = "http://www.w3.org/2000/svg";
const svg = document.getElementById("chart");
const columnLeft = [147.5, 1329];
const rowTop = [69, 1250, 2431];
const plotWidth = 983.5;
const plotHeight = 983;
const LW = 6.5;
const FS = 44;

function make(tag, parent, attrs, content) {
  const el = document.createElementNS(SVGNS, tag);
  for (const k in attrs) el.setAttribute(k, attrs[k]);
  if (content !== undefined) el.textContent = content;
  parent.appendChild(el);
  return el;
}
function slug(t) { return t.toLowerCase().replace(/[^a-z0-9]+/g, "-"); }

function drawSegments(group, segs, sx, sy, clipId, dashed, name) {
  segs.forEach(function (s) {
    const attrs = {
      x1: sx(s[0]), y1: sy(s[1]), x2: sx(s[2]), y2: sy(s[3]),
      stroke: "#ff0000", "stroke-width": LW + 0.5, "clip-path": "url(#" + clipId + ")"
    };
    if (dashed) {
      attrs["stroke-dasharray"] = "27 32";
      attrs["stroke-linecap"] = "round";
    }
    const ln = make("line", group, attrs);
    
    
  });
}

panelTitles.forEach(function (title, idx) {
  const left = columnLeft[idx % 2];
  const top = rowTop[Math.floor(idx / 2)];
  const sx = function (v) { return left + (v + 4) / 8 * plotWidth; };
  const sy = function (v) { return top + (4 - v) / 8 * plotHeight; };
  const bottom = top + plotHeight;
  const key = slug(title);
  const clipId = "clip-" + idx;

  const g = make("g", svg, {});
  
  

  const clip = make("clipPath", g, { id: clipId });
  make("rect", clip, { x: left, y: top, width: plotWidth + 4, height: plotHeight + 5.5 });

  const titleEl = make("text", g, { x: left + plotWidth / 2, y: top - 16.4, "text-anchor": "middle", "font-size": FS, "font-weight": "bold" }, title);
  
  

  const ptsG = make("g", g, { fill: "none", stroke: "#000", "stroke-width": 6 });
  
  
  panelPoints[idx].forEach(function (p) {
    const c = make("circle", ptsG, { cx: sx(p[0]), cy: sy(p[1]), r: 8.6 });
    
    
  });

  const frame = make("rect", g, { x: left, y: top, width: plotWidth, height: plotHeight, fill: "none", stroke: "#000", "stroke-width": LW });
  
  

  const lines = make("g", g, {});
  
  
  drawSegments(lines, panelFit[idx], sx, sy, clipId, false, "fit-line");
  drawSegments(lines, panelUpper[idx], sx, sy, clipId, true, "upper-interval-line");
  drawSegments(lines, panelLower[idx], sx, sy, clipId, true, "lower-interval-line");

  axisTicks.forEach(function (t) {
    const xt = make("line", g, { x1: sx(t), y1: bottom, x2: sx(t), y2: bottom + 16, stroke: "#000", "stroke-width": LW, "stroke-linecap": "round" });
    
    
    const xl = make("text", g, { x: sx(t), y: bottom + 63, "text-anchor": "middle", "font-size": FS }, String(t));
    
    
    const yt = make("line", g, { x1: left, y1: sy(t), x2: left - 16, y2: sy(t), stroke: "#000", "stroke-width": LW, "stroke-linecap": "round" });
    
    
    const yl = make("text", g, { transform: "translate(" + (left - 36.5) + "," + sy(t) + ") rotate(-90)", "text-anchor": "middle", "font-size": FS }, String(t));
    
    
  });

  const xTitle = make("text", g, { x: left + 248.5, y: bottom + 106.3, "font-size": FS }, "Transformed observed,");
  
  
  const xEta = make("text", g, { x: left + 719, y: bottom + 106.3, "font-size": FS, style: "font-family:'Liberation Serif',serif" }, "\u03B7");
  
  

  const yBase = left - 94.8;
  const yTitle = make("text", g, { transform: "translate(" + yBase + "," + (top + 744) + ") rotate(-90)", "font-size": FS }, "Transformed predicted,");
  
  
  const yEta = make("text", g, { transform: "translate(" + yBase + "," + (top + 278) + ") rotate(-90)", "font-size": FS, style: "font-family:'Liberation Serif',serif" }, "\u03B7");
  
  
  const yHat = make("text", g, { transform: "translate(" + (left - 104.5) + "," + (top + 266) + ") rotate(-90)", "font-size": 38, "text-anchor": "middle" }, "^");
  
  
  const ySub = make("text", g, { transform: "translate(" + (left - 86) + "," + (top + 248) + ") rotate(-90)", "font-size": 33 }, "i");
  
  
});
</script>
</body>
</html>
